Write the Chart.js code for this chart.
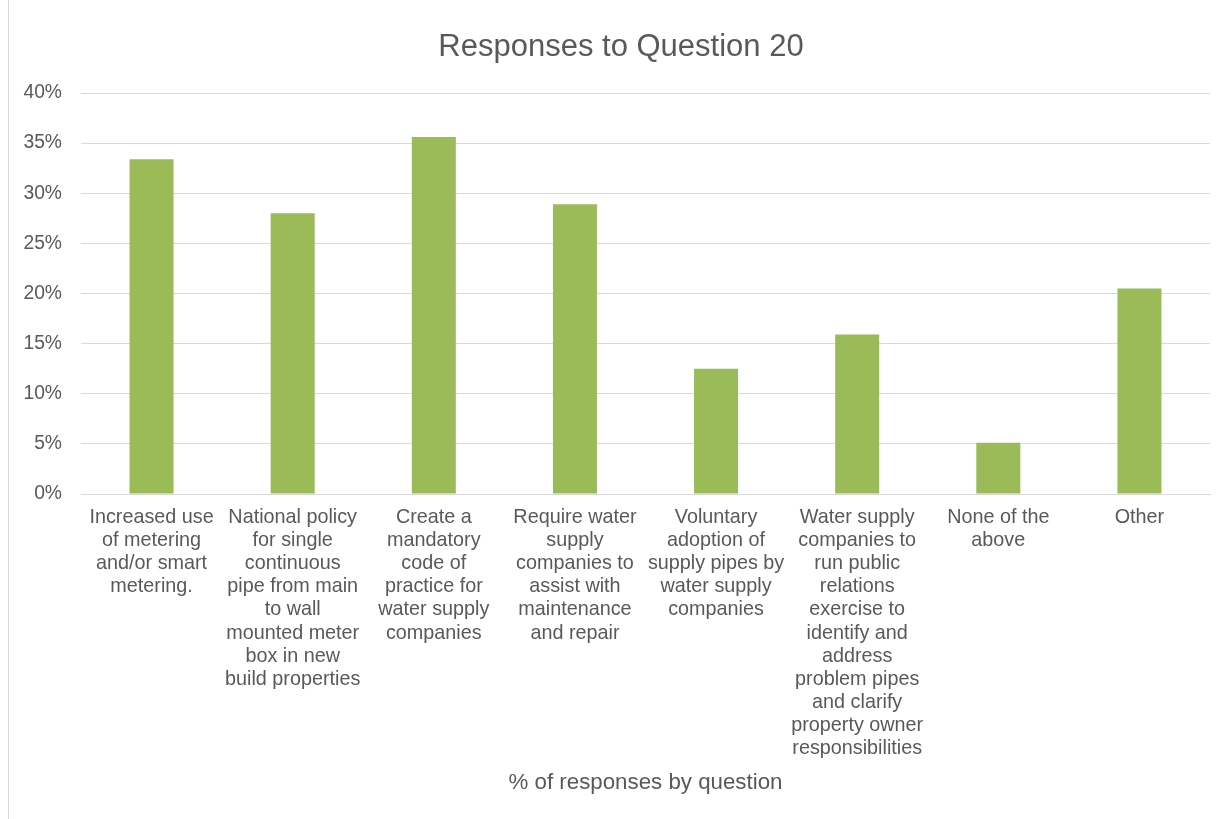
<!DOCTYPE html>
<html>
<head>
<meta charset="utf-8">
<title>Responses to Question 20</title>
<script src="https://cdn.jsdelivr.net/npm/chart.js@4.4.1/dist/chart.umd.min.js"></script>
<style>
  html, body { margin: 0; padding: 0; background: #ffffff; }
  #wrap { position: relative; width: 1226px; height: 819px; }
  #frame { position: absolute; left: 8px; top: 0; width: 0; height: 819px; border-left: 1px solid #d9d9d9; }
  canvas { position: absolute; left: 0; top: 0; }
</style>
</head>
<body>
<div id="wrap">
  <div id="frame"></div>
  <canvas id="chart" width="1226" height="819"></canvas>
</div>
<script>
// Answer options (wrapped into lines as printed under each bar)
const categories = [
  ["Increased use", "of metering", "and/or smart", "metering."],
  ["National policy", "for single", "continuous", "pipe from main", "to wall", "mounted meter", "box in new", "build properties"],
  ["Create a", "mandatory", "code of", "practice for", "water supply", "companies"],
  ["Require water", "supply", "companies to", "assist with", "maintenance", "and repair"],
  ["Voluntary", "adoption of", "supply pipes by", "water supply", "companies"],
  ["Water supply", "companies to", "run public", "relations", "exercise to", "identify and", "address", "problem pipes", "and clarify", "property owner", "responsibilities"],
  ["None of the", "above"],
  ["Other"]
];

// Share of responses per option, in percent
const responseShare = [33.4, 28.0, 35.6, 28.9, 12.5, 15.9, 5.1, 20.5];

// Value axis ticks
const yTicks = [0, 5, 10, 15, 20, 25, 30, 35, 40];

const textColor = '#595959';
const gridColor = '#d9d9d9';
const barColor = '#9bbb59';
const family = '"Liberation Sans", Arial, sans-serif';

// Centre the chart title over the framed chart object rather than the canvas
const titleSpan = {
  id: 'titleSpan',
  afterLayout(chart) {
    if (chart.titleBlock) {
      chart.titleBlock.left = 16;
      chart.titleBlock.right = chart.width;
    }
  }
};

new Chart(document.getElementById('chart'), {
  type: 'bar',
  data: {
    labels: categories,
    datasets: [{
      label: '% of responses by question',
      data: responseShare,
      backgroundColor: barColor,
      borderWidth: 0,
      categoryPercentage: 0.312,
      barPercentage: 1
    }]
  },
  plugins: [titleSpan],
  options: {
    responsive: false,
    animation: false,
    layout: { padding: { left: 0, right: 16, top: 0, bottom: 23 } },
    plugins: {
      legend: { display: false },
      tooltip: { enabled: false },
      title: {
        display: true,
        text: 'Responses to Question 20',
        color: textColor,
        font: { family: family, size: 31, weight: 'normal', lineHeight: 1.2 },
        padding: { top: 29, bottom: 26.8 }
      }
    },
    scales: {
      x: {
        grid: { display: false, drawTicks: false },
        border: { display: true, color: gridColor, width: 1 },
        ticks: {
          color: textColor,
          font: { family: family, size: 19.8, lineHeight: 1.162 },
          padding: 12.5,
          maxRotation: 0,
          autoSkip: false
        },
        title: {
          display: true,
          text: '% of responses by question',
          color: textColor,
          font: { family: family, size: 22.3, lineHeight: 1.2 },
          padding: 0
        },
        afterFit: (scale) => { scale.height = 302; }
      },
      y: {
        min: 0,
        max: 40,
        afterBuildTicks: (scale) => { scale.ticks = yTicks.map(v => ({ value: v })); },
        grid: { color: gridColor, lineWidth: 1, drawTicks: false },
        border: { display: false },
        ticks: {
          color: textColor,
          font: { family: family, size: 19.3 },
          padding: 19,
          callback: (v) => v + '%'
        },
        afterFit: (scale) => { scale.width = 81; }
      }
    }
  }
});
</script>
</body>
</html>
